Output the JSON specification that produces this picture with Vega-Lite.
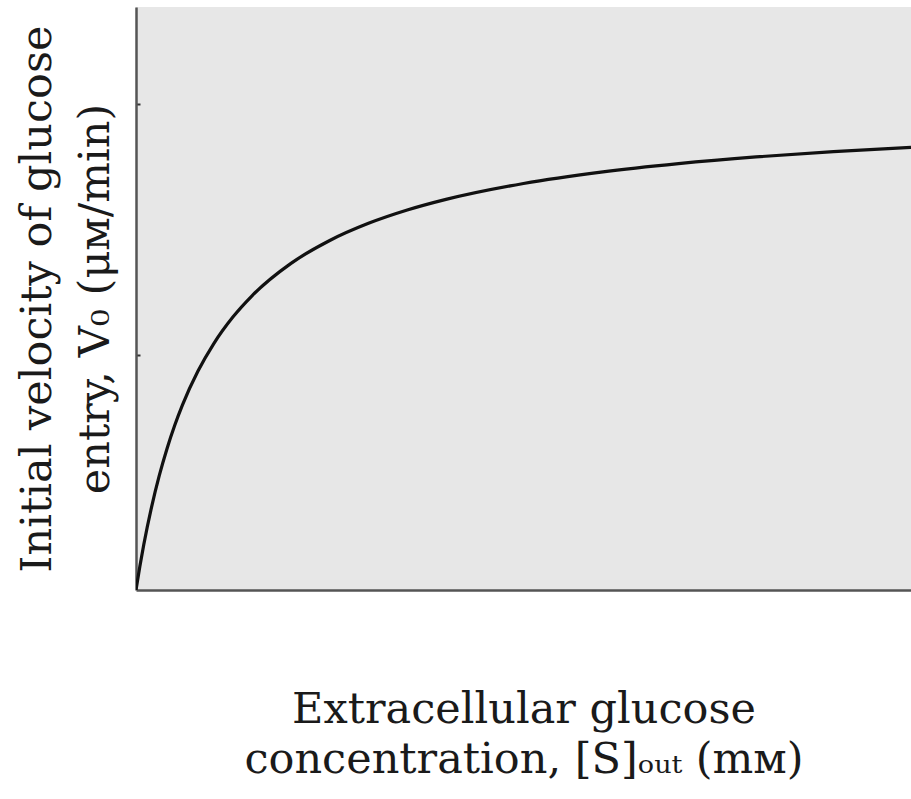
{
  "$schema": "https://vega.github.io/schema/vega-lite/v6.json",
  "width": 775,
  "height": 583,
  "autosize": {"type": "none"},
  "padding": {"left": 136, "top": 7, "right": 0, "bottom": 209},
  "background": "#ffffff",
  "config": {
    "view": {"fill": "#e7e7e7", "stroke": null},
    "axis": {"grid": false, "labels": false, "domainColor": "#555555", "domainWidth": 2.5, "tickColor": "#333333", "tickWidth": 2, "titleFont": "DejaVu Serif", "titleFontWeight": "normal", "titleColor": "#1a1a1a"}
  },
  "data": {"values": [
    {"conc": 0, "v0": 0},
    {"conc": 0.05, "v0": 0.0488},
    {"conc": 0.1, "v0": 0.093},
    {"conc": 0.2, "v0": 0.1702},
    {"conc": 0.3, "v0": 0.2353},
    {"conc": 0.4, "v0": 0.2909},
    {"conc": 0.5, "v0": 0.339},
    {"conc": 0.6, "v0": 0.381},
    {"conc": 0.8, "v0": 0.4507},
    {"conc": 1.0, "v0": 0.5063},
    {"conc": 1.25, "v0": 0.5618},
    {"conc": 1.5, "v0": 0.6061},
    {"conc": 2, "v0": 0.6723},
    {"conc": 2.5, "v0": 0.7194},
    {"conc": 3, "v0": 0.7547},
    {"conc": 3.5, "v0": 0.7821},
    {"conc": 4, "v0": 0.804},
    {"conc": 5, "v0": 0.8368},
    {"conc": 6, "v0": 0.8602},
    {"conc": 7, "v0": 0.8777},
    {"conc": 8, "v0": 0.8914},
    {"conc": 9, "v0": 0.9023},
    {"conc": 10, "v0": 0.9112}
  ]},
  "mark": {"type": "line", "color": "#111111", "strokeWidth": 3.2, "interpolate": "monotone", "clip": true},
  "encoding": {
    "x": {
      "field": "conc", "type": "quantitative",
      "scale": {"domain": [0, 10], "nice": false, "zero": true},
      "axis": {"ticks": false, "title": ["Extracellular glucose", "concentration, [S]ₒᵤₜ (mᴍ)"], "titleFontSize": 43, "titlePadding": 98, "titleLineHeight": 50}
    },
    "y": {
      "field": "v0", "type": "quantitative",
      "scale": {"domain": [0, 1.2], "nice": false},
      "axis": {"values": [0.4835, 1], "tickSize": -4, "title": ["Initial velocity of glucose", "entry, V₀ (μᴍ/min)"], "titleFontSize": 43, "titlePadding": 18, "titleLineHeight": 58}
    }
  }
}
